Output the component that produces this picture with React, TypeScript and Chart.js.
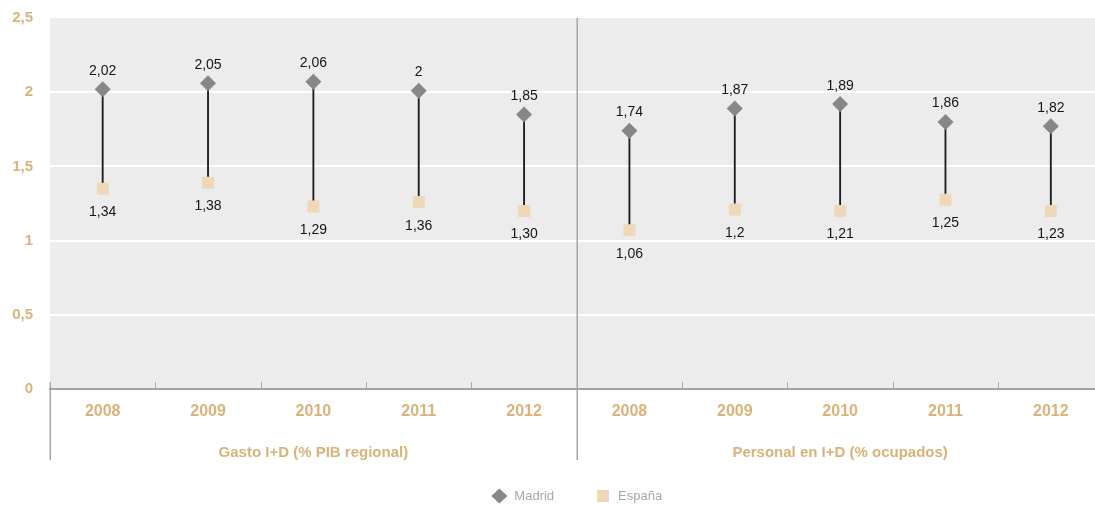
import React, { useEffect, useRef } from 'react';
import { Chart, registerables } from 'chart.js';

Chart.register(...registerables);

// ---- data ----
const years = ['2008', '2009', '2010', '2011', '2012', '2008', '2009', '2010', '2011', '2012'];
const groups = ['Gasto I+D (% PIB regional)', 'Personal en I+D (% ocupados)'];
const groupSizes = [5, 5];
const madridValues = [2.02, 2.06, 2.07, 2.01, 1.85, 1.74, 1.89, 1.92, 1.8, 1.77];
const madridLabels = ['2,02', '2,05', '2,06', '2', '1,85', '1,74', '1,87', '1,89', '1,86', '1,82'];
const espanaValues = [1.35, 1.39, 1.23, 1.26, 1.2, 1.07, 1.21, 1.2, 1.275, 1.2];
const espanaLabels = ['1,34', '1,38', '1,29', '1,36', '1,30', '1,06', '1,2', '1,21', '1,25', '1,23'];
const yTicks = [0, 0.5, 1, 1.5, 2, 2.5];
const seriesNames = ['Madrid', 'España'];

const TAN = '#d9b37b';
const MADRID_COLOR = '#878787';
const ESPANA_COLOR = '#eed8b8';
const REGULAR = '"Liberation Sans", Arial, sans-serif';

const bgPlugin = {
  id: 'bgPlugin',
  beforeDraw(chart: any) {
    const { ctx, chartArea } = chart;
    ctx.save();
    ctx.fillStyle = '#ececec';
    ctx.fillRect(chartArea.left, chartArea.top, chartArea.right - chartArea.left, chartArea.bottom - chartArea.top);
    ctx.restore();
  },
};

const decoPlugin = {
  id: 'decoPlugin',
  afterDraw(chart: any) {
    const { ctx, chartArea, scales } = chart;
    const x = scales.x;
    const n = years.length;
    const half = (x.getPixelForValue(1) - x.getPixelForValue(0)) / 2;
    const bottom = chartArea.bottom;
    const lineBottom = 460;
    ctx.save();

    // inside ticks at category boundaries
    ctx.strokeStyle = '#a8a8a8';
    ctx.lineWidth = 1;
    for (let i = 1; i < n; i++) {
      const bx = Math.round(x.getPixelForValue(i) - half) + 0.5;
      ctx.beginPath();
      ctx.moveTo(bx, bottom - 7);
      ctx.lineTo(bx, bottom);
      ctx.stroke();
    }

    // group separators
    ctx.lineWidth = 1.5;
    ctx.strokeStyle = '#a6a6a6';
    let idx = 0;
    const bounds: number[] = [x.getPixelForValue(0) - half];
    groupSizes.forEach((s) => {
      idx += s;
      bounds.push(x.getPixelForValue(idx - 1) + half);
    });
    bounds.forEach((bx, k) => {
      const px = Math.round(bx) + 0.25;
      ctx.beginPath();
      if (k === 0 || k === bounds.length - 1) {
        ctx.moveTo(px, bottom - 7);
      } else {
        ctx.moveTo(px, chartArea.top);
      }
      ctx.lineTo(px, lineBottom);
      ctx.stroke();
    });

    // group labels
    ctx.fillStyle = TAN;
    ctx.font = `bold 15px ${REGULAR}`;
    ctx.textAlign = 'center';
    ctx.textBaseline = 'middle';
    groups.forEach((g, k) => {
      const cx = (bounds[k] + bounds[k + 1]) / 2;
      ctx.fillText(g, cx, 453);
    });

    // value labels
    ctx.fillStyle = '#151515';
    ctx.font = `14px ${REGULAR}`;
    ctx.textBaseline = 'alphabetic';
    const m0 = chart.getDatasetMeta(0).data;
    const m1 = chart.getDatasetMeta(1).data;
    for (let i = 0; i < n; i++) {
      ctx.fillText(madridLabels[i], m0[i].x, m0[i].y - 14.5);
      ctx.fillText(espanaLabels[i], m1[i].x, m1[i].y + 27.5);
    }

    // legend
    ctx.font = `13px ${REGULAR}`;
    const w1 = ctx.measureText(seriesNames[0]).width;
    const w2 = ctx.measureText(seriesNames[1]).width;
    const total = 16 + 7 + w1 + 43 + 12 + 9 + w2;
    const cx = (chartArea.left + chartArea.right) / 2;
    let lx = cx - total / 2;
    const ly = 496;
    ctx.fillStyle = MADRID_COLOR;
    ctx.beginPath();
    ctx.moveTo(lx, ly);
    ctx.lineTo(lx + 8, ly - 7.5);
    ctx.lineTo(lx + 16, ly);
    ctx.lineTo(lx + 8, ly + 7.5);
    ctx.closePath();
    ctx.fill();
    lx += 16 + 7;
    ctx.fillStyle = '#a8a8a8';
    ctx.textAlign = 'left';
    ctx.textBaseline = 'middle';
    ctx.fillText(seriesNames[0], lx, ly);
    lx += w1 + 43;
    ctx.fillStyle = ESPANA_COLOR;
    ctx.fillRect(lx, ly - 6, 12, 12);
    lx += 12 + 9;
    ctx.fillStyle = '#a8a8a8';
    ctx.fillText(seriesNames[1], lx, ly);

    ctx.restore();
  },
};

export default function App() {
  const ref = useRef<HTMLCanvasElement | null>(null);
  useEffect(() => {
    if (!ref.current) return;
    const chart = new Chart(ref.current, {
      type: 'bar',
      data: {
        labels: years,
        datasets: [
          {
            type: 'line',
            label: seriesNames[0],
            data: madridValues,
            showLine: false,
            pointStyle: 'rectRot',
            pointRadius: 8,
            pointHoverRadius: 8,
            pointBackgroundColor: MADRID_COLOR,
            pointBorderWidth: 0,
            backgroundColor: MADRID_COLOR,
            borderColor: MADRID_COLOR,
            borderWidth: 0,
            order: 1,
          } as any,
          {
            type: 'line',
            label: seriesNames[1],
            data: espanaValues,
            showLine: false,
            pointStyle: 'rect',
            pointRadius: 8.5,
            pointHoverRadius: 8.5,
            pointBackgroundColor: ESPANA_COLOR,
            pointBorderWidth: 0,
            backgroundColor: ESPANA_COLOR,
            borderColor: ESPANA_COLOR,
            borderWidth: 0,
            order: 2,
          } as any,
          {
            type: 'bar',
            label: 'range',
            data: madridValues.map((m, i) => [espanaValues[i], m]),
            backgroundColor: '#1e1e1e',
            borderWidth: 0,
            barThickness: 1.2,
            order: 3,
          } as any,
        ],
      },
      options: {
        responsive: false,
        animation: false,
        devicePixelRatio: 1,
        layout: { padding: { top: 18, right: 2, left: 0, bottom: 0 } },
        plugins: { legend: { display: false }, tooltip: { enabled: false } },
        scales: {
          x: {
            grid: { display: false, drawTicks: false },
            border: { display: true, color: '#a3a3a3', width: 2 },
            ticks: {
              color: TAN,
              font: { family: REGULAR, weight: 'bold', size: 16 },
              padding: 13,
              maxRotation: 0,
              autoSkip: false,
            },
            afterFit: (s: any) => {
              s.height = 116;
              s.paddingLeft = 0;
              s.paddingRight = 0;
            },
          },
          y: {
            min: 0,
            max: 2.5,
            afterBuildTicks: (s: any) => {
              s.ticks = yTicks.map((v) => ({ value: v }));
            },
            grid: {
              color: (c: any) => (c.tick && (c.tick.value === 0 || c.tick.value === 2.5) ? 'rgba(0,0,0,0)' : '#ffffff'),
              lineWidth: 2,
              drawTicks: false,
            },
            border: { display: false },
            ticks: {
              color: TAN,
              font: { family: REGULAR, weight: 'bold', size: 15 },
              padding: 17,
              callback: (v: any) => String(v).replace('.', ','),
            },
            afterFit: (s: any) => {
              s.width = 50;
              s.paddingTop = 0;
              s.paddingBottom = 0;
            },
          },
        },
      } as any,
      plugins: [bgPlugin, decoPlugin],
    });
    return () => chart.destroy();
  }, []);
  return (
    <div
      style={{
        position: 'fixed',
        left: 0,
        top: 0,
        width: 1095,
        height: 505,
        overflow: 'hidden',
        background: '#ffffff',
      }}
    >
      <canvas ref={ref} width={1112} height={505} style={{ display: 'block' }} />
    </div>
  );
}
